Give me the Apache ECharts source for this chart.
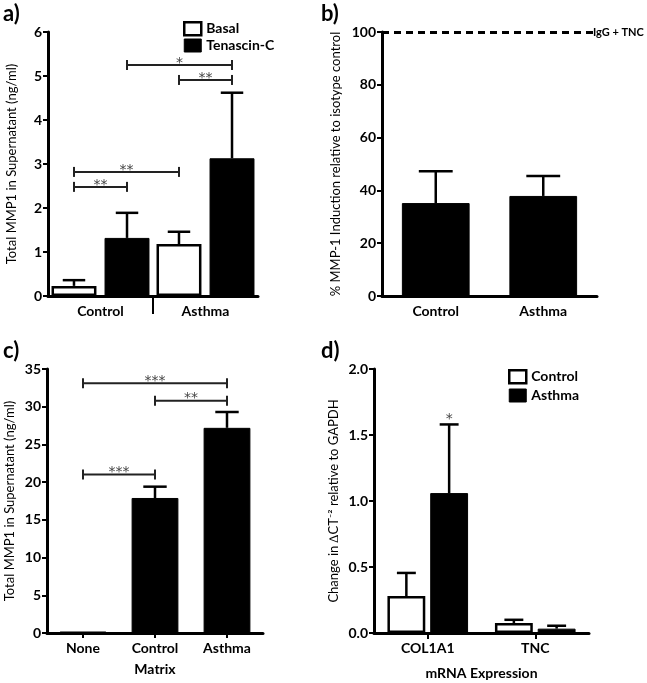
<!DOCTYPE html>
<html><head><meta charset="utf-8">
<script src="https://cdn.jsdelivr.net/npm/echarts@6/dist/echarts.min.js"></script>
<style>html,body{margin:0;padding:0;background:#fff}#c{width:647px;height:683px}</style>
</head><body><div id="c"></div>
<script>
// ---- Panel a ----
const aCategories = ['Control', 'Asthma'];
const aBasal = [0.23, 1.18];
const aBasalErr = [0.36, 1.46];
const aTNC = [1.32, 3.13];
const aTNCErr = [1.89, 4.62];
// [cat1, bar1, cat2, bar2, y, label]
const aBrackets = [[0,1,1,1,5.25,'*'],[1,0,1,1,4.91,'**'],[0,0,1,0,2.82,'**'],[0,0,0,1,2.48,'**']];
const aTicks = [0,1,2,3,4,5,6];
// ---- Panel b ----
const bCategories = ['Control', 'Asthma'];
const bValues = [35.2, 37.9];
const bErr = [47.3, 45.5];
const bRef = 100;
const bTicks = [0,20,40,60,80,100];
// ---- Panel c ----
const cCategories = ['None', 'Control', 'Asthma'];
const cValues = [0.2, 17.9, 27.2];
const cErr = [0.2, 19.4, 29.3];
const cBrackets = [[0,0,2,0,33.1,'***'],[1,0,2,0,30.8,'**'],[0,0,1,0,21.0,'***']];
const cTicks = [0,5,10,15,20,25,30,35];
// ---- Panel d ----
const dCategories = ['COL1A1', 'TNC'];
const dControl = [0.28, 0.076];
const dControlErr = [0.455, 0.10];
const dAsthma = [1.06, 0.033];
const dAsthmaErr = [1.58, 0.055];
const dStars = [[0,1,1.64,'*']];
const dTicks = [0,0.5,1.0,1.5,2.0];

const FONT = 'Lato';
const STARFONT = '14px "DejaVu Sans"';
const chart = echarts.init(document.getElementById('c'));

// bar layout configs (must match series barCategoryGap / barGap)
const cfg = {
  a: {n:2, cg:0.067, bg:0.18},
  b: {n:1, cg:0.37, bg:0},
  c: {n:1, cg:0.35, bg:0},
  d: {n:2, cg:0.25, bg:0.13}
};
function barX(api, cat, bar, c) {
  const W = api.size([1, 0])[0];
  const avail = W * (1 - c.cg);
  const bw = avail / (c.n + (c.n - 1) * c.bg);
  const cx = api.coord([cat, 0])[0];
  return {x: cx - avail / 2 + bar * bw * (1 + c.bg) + bw / 2, bw: bw};
}
function errSeries(ax, c, bar, vals, errs) {
  return {
    type: 'custom', xAxisIndex: ax, yAxisIndex: ax, z: 5,
    data: vals.map((v, i) => [i, v, errs[i]]),
    renderItem: function (params, api) {
      const cat = api.value(0), v = api.value(1), e = api.value(2);
      const p = barX(api, cat, bar, c);
      const y0 = api.coord([cat, v])[1], y1 = api.coord([cat, e])[1];
      const cap = p.bw / 4;
      if (Math.abs(y0 - y1) < 1) return null;
      return {type: 'group', children: [
        {type: 'line', shape: {x1: p.x, y1: y0, x2: p.x, y2: y1}, style: {stroke: '#000', lineWidth: 2.5}},
        {type: 'line', shape: {x1: p.x - cap, y1: y1, x2: p.x + cap, y2: y1}, style: {stroke: '#000', lineWidth: 2.5}}
      ]};
    }
  };
}
function bracketSeries(ax, c, data) {
  return {
    type: 'custom', xAxisIndex: ax, yAxisIndex: ax, z: 6,
    data: data.map(d => d.slice(0, 5)),
    renderItem: function (params, api) {
      const d = data[params.dataIndex];
      const p1 = barX(api, d[0], d[1], c), p2 = barX(api, d[2], d[3], c);
      const y = api.coord([d[0], d[4]])[1];
      return {type: 'group', children: [
        {type: 'line', shape: {x1: p1.x, y1: y, x2: p2.x, y2: y}, style: {stroke: '#222', lineWidth: 2}},
        {type: 'line', shape: {x1: p1.x, y1: y - 5, x2: p1.x, y2: y + 5}, style: {stroke: '#222', lineWidth: 2}},
        {type: 'line', shape: {x1: p2.x, y1: y - 5, x2: p2.x, y2: y + 5}, style: {stroke: '#222', lineWidth: 2}},
        {type: 'text', style: {text: d[5], x: (p1.x + p2.x) / 2, y: y + 5, align: 'center', verticalAlign: 'bottom',
          fill: '#444', font: STARFONT}}
      ]};
    }
  };
}
function starSeries(ax, c, data) {
  return {
    type: 'custom', xAxisIndex: ax, yAxisIndex: ax, z: 6,
    data: data.map(d => [d[0], d[2]]),
    renderItem: function (params, api) {
      const d = data[params.dataIndex];
      const p = barX(api, d[0], d[1], c);
      const y = api.coord([d[0], d[2]])[1];
      return {type: 'text', style: {text: d[3], x: p.x, y: y + 3, align: 'center', verticalAlign: 'middle', fill: '#444', font: STARFONT}};
    }
  };
}
// group separator tick under panel a (between categories)
function sepSeries(ax, n) {
  const d = [];
  for (let i = 0; i < n - 1; i++) d.push([i, 0]);
  return {
    type: 'custom', xAxisIndex: ax, yAxisIndex: ax, z: 6, clip: false, silent: true,
    data: d,
    renderItem: function (params, api) {
      const W = api.size([1, 0])[0];
      const p = api.coord([api.value(0), 0]);
      const x = p[0] + W / 2;
      return {type: 'line', shape: {x1: x, y1: p[1], x2: x, y2: p[1] + 18}, style: {stroke: '#000', lineWidth: 2}};
    }
  };
}
function yAxis(idx, min, max, interval, name, gap, fmt) {
  return {
    type: 'value', gridIndex: idx, min: min, max: max, interval: interval,
    name: name, nameLocation: 'middle', nameGap: gap, nameRotate: 90,
    nameTextStyle: {fontFamily: FONT, fontSize: 13, color: '#000'},
    axisLine: {show: true, lineStyle: {color: '#000', width: 3}},
    axisTick: {show: true, length: 5, lineStyle: {color: '#000', width: 2}},
    axisLabel: {fontFamily: FONT, fontWeight: 'bold', fontSize: 14, color: '#000', margin: 6, formatter: fmt},
    splitLine: {show: false}
  };
}
function xAxis(idx, data, tick, extra) {
  return Object.assign({
    type: 'category', gridIndex: idx, data: data,
    axisLine: {show: true, lineStyle: {color: '#000', width: 3}},
    axisTick: tick,
    axisLabel: {fontFamily: FONT, fontWeight: 'bold', fontSize: 14, color: '#000', margin: 8},
    nameTextStyle: {fontFamily: FONT, fontWeight: 'bold', fontSize: 14, color: '#000'}
  }, extra || {});
}
const whiteBar = {color: '#fff', borderColor: '#000', borderWidth: 2.5};
const blackBar = {color: '#000', borderColor: '#000', borderWidth: 1};
const legendText = {fontFamily: FONT, fontWeight: 'bold', fontSize: 14, color: '#000'};

const option = {
  animation: false,
  backgroundColor: '#fff',
  grid: [
    {left: 48, top: 32, width: 210, height: 264},
    {left: 382, top: 32, width: 215, height: 264},
    {left: 47, top: 369, width: 216, height: 264},
    {left: 374, top: 369, width: 215, height: 264}
  ],
  xAxis: [
    xAxis(0, aCategories, {show: false}),
    xAxis(1, bCategories, {show: false}),
    xAxis(2, cCategories, {show: true, alignWithLabel: true, length: 5, lineStyle: {color: '#000', width: 2}},
      {name: 'Matrix', nameLocation: 'middle', nameGap: 29}),
    xAxis(3, dCategories, {show: true, alignWithLabel: true, length: 6, lineStyle: {color: '#000', width: 2}},
      {name: 'mRNA Expression', nameLocation: 'middle', nameGap: 33})
  ],
  yAxis: [
    yAxis(0, 0, 6, 1, 'Total MMP1 in Supernatant (ng/ml)', 30),
    yAxis(1, 0, 100, 20, '% MMP-1 Induction relative to isotype control', 40),
    yAxis(2, 0, 35, 5, 'Total MMP1 in Supernatant (ng/ml)', 31),
    yAxis(3, 0, 2, 0.5, 'Change in \u2206CT\u207B\u00B2 relative to GAPDH', 34, v => v.toFixed(1))
  ],
  legend: [
    {data: [{name: 'Basal', itemStyle: whiteBar}, {name: 'Tenascin-C', itemStyle: blackBar}],
      left: 183, top: 21, padding: 0, orient: 'vertical', icon: 'rect', itemWidth: 17, itemHeight: 13, itemGap: 2,
      textStyle: legendText, selectedMode: false},
    {data: [{name: 'Control', itemStyle: whiteBar}, {name: 'Asthma', itemStyle: blackBar}],
      left: 508, top: 369, padding: 0, orient: 'vertical', icon: 'rect', itemWidth: 17, itemHeight: 13, itemGap: 4,
      textStyle: legendText, selectedMode: false}
  ],
  graphic: [
    {type: 'text', left: 3, top: 3, style: {text: 'a)', font: 'bold 22px ' + FONT, fill: '#000'}},
    {type: 'text', left: 321, top: 3, style: {text: 'b)', font: 'bold 22px ' + FONT, fill: '#000'}},
    {type: 'text', left: 3, top: 340, style: {text: 'c)', font: 'bold 22px ' + FONT, fill: '#000'}},
    {type: 'text', left: 321, top: 340, style: {text: 'd)', font: 'bold 22px ' + FONT, fill: '#000'}}
  ],
  series: [
    // a
    {name: 'Basal', type: 'bar', xAxisIndex: 0, yAxisIndex: 0, data: aBasal, itemStyle: whiteBar,
      barCategoryGap: '6.7%', barGap: '18%'},
    {name: 'Tenascin-C', type: 'bar', xAxisIndex: 0, yAxisIndex: 0, data: aTNC, itemStyle: blackBar,
      barCategoryGap: '6.7%', barGap: '18%'},
    errSeries(0, cfg.a, 0, aBasal, aBasalErr),
    errSeries(0, cfg.a, 1, aTNC, aTNCErr),
    bracketSeries(0, cfg.a, aBrackets),
    sepSeries(0, aCategories.length),
    // b
    {name: 'MMP-1 induction', type: 'bar', xAxisIndex: 1, yAxisIndex: 1, data: bValues, itemStyle: blackBar,
      barCategoryGap: '37%',
      markLine: {symbol: 'none', silent: true, data: [{yAxis: bRef}],
        lineStyle: {color: '#000', width: 3, type: [7, 5]},
        label: {show: true, position: 'end', formatter: 'IgG + TNC', distance: -4,
          fontFamily: FONT, fontWeight: 'bold', fontSize: 11, color: '#000'}}},
    errSeries(1, cfg.b, 0, bValues, bErr),
    // c
    {name: 'Matrix MMP1', type: 'bar', xAxisIndex: 2, yAxisIndex: 2, data: cValues, itemStyle: blackBar,
      barCategoryGap: '35%'},
    errSeries(2, cfg.c, 0, cValues, cErr),
    bracketSeries(2, cfg.c, cBrackets),
    // d
    {name: 'Control', type: 'bar', xAxisIndex: 3, yAxisIndex: 3, data: dControl, itemStyle: whiteBar,
      barCategoryGap: '25%', barGap: '13%'},
    {name: 'Asthma', type: 'bar', xAxisIndex: 3, yAxisIndex: 3, data: dAsthma, itemStyle: blackBar,
      barCategoryGap: '25%', barGap: '13%'},
    errSeries(3, cfg.d, 0, dControl, dControlErr),
    errSeries(3, cfg.d, 1, dAsthma, dAsthmaErr),
    starSeries(3, cfg.d, dStars)
  ]
};
chart.setOption(option);
</script>
</body></html>
